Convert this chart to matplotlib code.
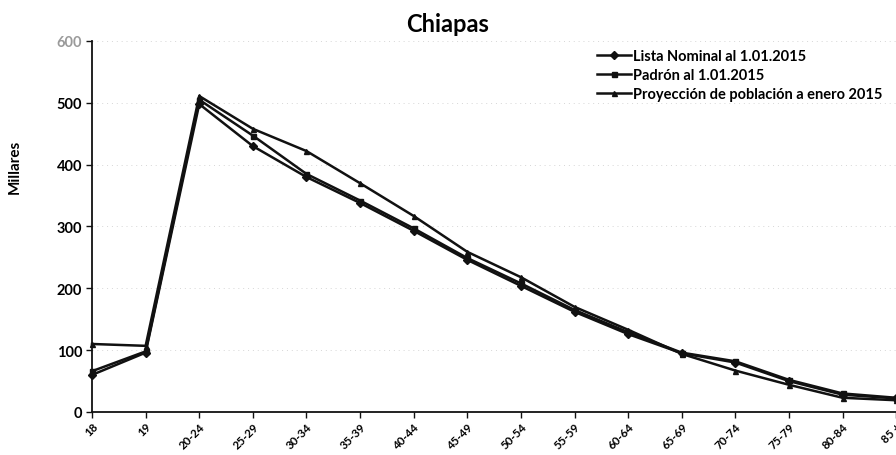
import matplotlib
matplotlib.use("Agg")
import matplotlib.pyplot as plt

plt.rcParams['font.family'] = ['Lato', 'DejaVu Sans']

# Age groups and series (thousands of people)
categories = ["18", "19", "20-24", "25-29", "30-34", "35-39", "40-44", "45-49",
              "50-54", "55-59", "60-64", "65-69", "70-74", "75-79", "80-84", "85 +"]
lista_nominal = [60, 96, 498, 430, 380, 338, 293, 246, 204, 162, 126, 95, 80, 50, 28, 22]
padron = [66, 98, 505, 447, 385, 342, 297, 249, 208, 165, 129, 96, 82, 52, 30, 23]
proyeccion = [110, 107, 511, 458, 422, 370, 317, 259, 218, 170, 133, 94, 67, 44, 23, 19]

series = [
    ("Lista Nominal al 1.01.2015", lista_nominal, "D"),
    ("Padrón al 1.01.2015", padron, "s"),
    ("Proyección de población a enero 2015", proyeccion, "^"),
]
y_ticks = [0, 100, 200, 300, 400, 500, 600]

fig = plt.figure(figsize=(8.96, 4.56), dpi=100)
ax = fig.add_axes([0.1027, 0.0943, 0.8975, 0.8136])

x = list(range(len(categories)))
for label, values, marker in series:
    ax.plot(x, values, color="#111111", linewidth=1.8, marker=marker,
            markersize=3.6, label=label, clip_on=False, zorder=3)

ax.set_xlim(0, len(categories) - 1)
ax.set_ylim(0, 600)
ax.set_yticks(y_ticks)
ax.set_yticklabels([str(v) for v in y_ticks], fontsize=10.5, fontweight="bold")
ax.get_yticklabels()[-1].set_color("#9a9a9a")
ax.set_xticks(x)
ax.set_xticklabels(categories, rotation=45, ha="right", rotation_mode="anchor",
                   fontsize=8.3, fontweight="bold")
ax.tick_params(axis="both", direction="out", length=4, width=1, color="#111111")
ax.tick_params(axis="x", pad=2)
ax.tick_params(axis="y", pad=3)

for side in ("top", "right"):
    ax.spines[side].set_visible(False)
for side in ("left", "bottom"):
    ax.spines[side].set_linewidth(1.3)
    ax.spines[side].set_color("#111111")

ax.yaxis.grid(True, color="#d6d6d6", linestyle=(0, (1, 4)), linewidth=0.7)
ax.set_axisbelow(True)

fig.text(15 / 896, 1 - 167 / 456, "Millares", rotation=90, ha="center",
         va="center", fontsize=11, fontweight="bold")
fig.text(0.5, 1 - 25 / 456, "Chiapas", ha="center", va="center",
         fontsize=17, fontweight="bold")

leg = ax.legend(loc="upper left", bbox_to_anchor=(0.628, 0.978), frameon=False,
                fontsize=10.5, handlelength=2.3, handletextpad=0.15,
                labelspacing=0.35, borderaxespad=0, borderpad=0)
for t in leg.get_texts():
    t.set_fontweight("bold")

fig.savefig("out.png", dpi=100)
